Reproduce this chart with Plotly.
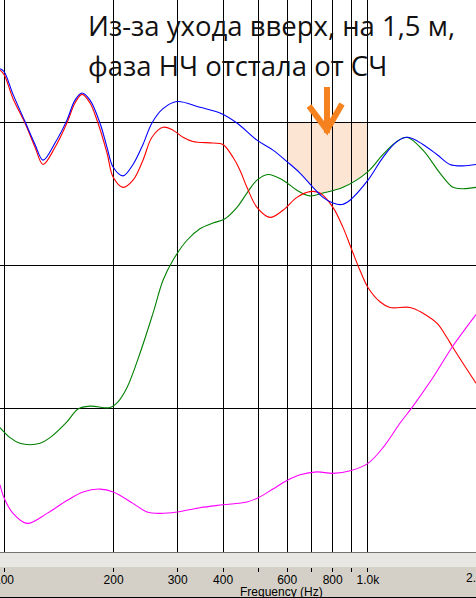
import numpy as np
import plotly.graph_objects as go

# ---- data (frequency in Hz, level in dB) ----
red_f = [97.5, 100, 105.9, 114.2, 121.7, 128.0, 138.1, 148.9, 156.7, 163.8, 172.3, 181.2,
         191.9, 199.6, 212.3, 226.2, 240.9, 255.0, 273.5, 291.2, 310.3, 330.5, 375.2, 399.6,
         425.8, 445.0, 465.1, 495.5, 538.0, 584.1, 638.1, 692.9, 738.2, 801.4, 853.8, 903.8,
         950.5, 1000, 1079, 1149, 1305, 1416, 1547, 1648, 1712, 1824, 1981]
red_db = [93.7, 93.4, 91.7, 90.0, 88.3, 87.1, 88.3, 90.0, 91.4, 92.0, 91.4, 90.0,
          87.9, 86.2, 85.5, 86.0, 87.4, 89.0, 89.7, 89.5, 89.0, 88.7, 88.6, 88.5,
          87.6, 86.7, 85.5, 84.1, 83.4, 83.9, 84.8, 85.2, 85.1, 84.1, 82.7, 81.1,
          79.7, 78.5, 77.5, 77.1, 77.1, 76.7, 76.0, 75.0, 74.3, 73.2, 71.8]

blue_f = [97.5, 100, 105.9, 114.2, 121.7, 128.0, 138.1, 148.9, 156.7, 163.8, 172.3, 183.5,
          191.9, 199.6, 212.3, 226.2, 240.9, 255.0, 273.5, 298.7, 345.5, 392.1, 436.6, 495.5,
          548.3, 599.0, 650.4, 706.2, 752.3, 801.4, 847.7, 892.4, 1000, 1100, 1201, 1288,
          1416, 1547, 1680, 1824, 1981]
blue_db = [93.8, 93.6, 92.0, 90.1, 88.5, 87.4, 88.6, 90.2, 91.6, 92.1, 91.6, 90.0,
           88.3, 86.9, 86.3, 87.1, 88.5, 90.0, 91.0, 91.5, 91.1, 90.7, 90.0, 88.8,
           88.1, 87.3, 86.5, 85.5, 84.8, 84.4, 84.3, 84.6, 86.0, 87.6, 88.7, 89.0,
           88.5, 87.8, 87.1, 87.0, 87.1]

green_f = [97.5, 103.9, 110.6, 117.9, 125.6, 133.8, 148.9, 159.7, 172.3, 195.5, 205.7, 217.8,
           236.4, 256.7, 273.5, 291.2, 318.3, 345.5, 375.2, 404.7, 436.6, 465.1, 495.5, 531.2,
           584.1, 638.1, 692.9, 752.3, 853.8, 1000, 1100, 1201, 1280, 1416, 1577, 1712,
           1824, 1981]
green_db = [68.7, 68.0, 67.6, 67.5, 67.6, 68.0, 69.1, 70.0, 70.2, 70.1, 70.5, 71.5,
            73.9, 76.7, 79.0, 80.4, 81.8, 82.6, 83.0, 83.3, 84.1, 85.1, 86.0, 86.4,
            86.0, 85.3, 84.9, 85.1, 85.5, 86.6, 87.8, 88.7, 89.0, 88.1, 86.5, 85.5,
            85.4, 85.5]

magenta_f = [97.5, 100, 105.9, 115.7, 131.3, 148.9, 164.8, 183.5, 199.6, 226.2, 247.1, 268.3,
             298.7, 345.5, 399.6, 465.1, 500, 548.3, 599, 650.4, 724.3, 801.4, 900, 1000,
             1100, 1224, 1321, 1509, 1701, 1981]
magenta_db = [64.7, 63.8, 62.7, 62.0, 62.7, 63.6, 64.2, 64.4, 64.2, 63.4, 62.8, 62.7,
              62.8, 63.1, 63.3, 63.5, 63.8, 64.4, 65.0, 65.4, 65.6, 65.5, 65.7, 66.2,
              67.3, 69.0, 70.1, 72.2, 74.3, 76.6]

grid_f = [100, 200, 300, 400, 500, 600, 700, 800, 900, 1000]
tick_text = ["100", "200", "300", "400", "", "600", "", "800", "", "1.0k"]
grid_db = [60, 70, 80, 90, 100]

highlight_f = [600, 1000]      # shaded band
highlight_top = 90

title_lines = ["Из-за ухода вверх, на 1,5 м,", "фаза НЧ отстала от СЧ"]
x_title = "Frequency (Hz)"

# ---- geometry ----
W, H = 476, 598
X_RANGE = [np.log10(97.5), np.log10(1981)]
Y_RANGE = [60, 98.6]
PLOT_BOTTOM = 552


def px(x):
    return x / W


def py(y):
    return 1 - y / H


fig = go.Figure()

line_w = 1.1
fig.add_trace(go.Scatter(x=green_f, y=green_db, mode="lines", line=dict(color="#008000", width=line_w, shape="spline"), hoverinfo="skip"))
fig.add_trace(go.Scatter(x=red_f, y=red_db, mode="lines", line=dict(color="#ff0000", width=line_w, shape="spline"), hoverinfo="skip"))
fig.add_trace(go.Scatter(x=blue_f, y=blue_db, mode="lines", line=dict(color="#0000ff", width=line_w, shape="spline"), hoverinfo="skip"))
fig.add_trace(go.Scatter(x=magenta_f, y=magenta_db, mode="lines", xaxis="x2", line=dict(color="#ff00ff", width=line_w, shape="spline"), hoverinfo="skip"))

# shaded band bounded by the upper of blue/green curves
fg = np.geomspace(highlight_f[0], highlight_f[1], 41)
lb = np.interp(np.log10(fg), np.log10(blue_f), blue_db)
lg = np.interp(np.log10(fg), np.log10(green_f), green_db)
bottom = np.maximum(lb, lg)
path = f"M {highlight_f[0]},{highlight_top} " + " ".join(f"L {f:.2f},{v:.3f}" for f, v in zip(fg, bottom)) + f" L {highlight_f[1]},{highlight_top} Z"

shapes = [
    dict(type="path", path=path, xref="x", yref="y", fillcolor="#fde5d3", line=dict(width=0), layer="below"),
    # white areas hiding the grid at the top (pasted caption)
    dict(type="rect", xref="paper", yref="paper", x0=0, x1=1, y0=py(64), y1=1, fillcolor="white", line=dict(width=0), layer="between"),
    dict(type="rect", xref="paper", yref="paper", x0=px(8), x1=1, y0=py(99.5), y1=1, fillcolor="white", line=dict(width=0), layer="between"),
    dict(type="rect", xref="paper", yref="paper", x0=px(240), x1=1, y0=py(122.4), y1=1, fillcolor="white", line=dict(width=0), layer="between"),
    # hatched strip under the plot
    dict(type="rect", xref="paper", yref="paper", x0=0, x1=1, y0=py(567), y1=py(552.6), fillcolor="#e9e7e3", line=dict(width=0), layer="above"),
    # bottom border
    dict(type="line", xref="paper", yref="paper", x0=0, x1=1, y0=py(597.5), y1=py(597.5), line=dict(color="black", width=1), layer="above"),
    # hand-drawn arrow
    dict(type="path", xref="paper", yref="paper",
         path=f"M {px(327)},{py(87)} L {px(327)},{py(133)} M {px(309)},{py(106)} L {px(327)},{py(130)} L {px(342)},{py(104)}",
         line=dict(color="#f5821f", width=6), layer="above"),
]

annotations = [
    dict(text=title_lines[0], xref="paper", yref="paper", x=px(86), y=py(5), xanchor="left", yanchor="top",
         showarrow=False, font=dict(family="Open Sans", size=27.5, color="#111111")),
    dict(text=title_lines[1], xref="paper", yref="paper", x=px(86), y=py(45), xanchor="left", yanchor="top",
         showarrow=False, font=dict(family="Open Sans", size=27.5, color="#111111")),
    dict(text=x_title, xref="paper", yref="paper", x=px(281), y=py(591.5), xanchor="center", yanchor="middle",
         showarrow=False, font=dict(family="Liberation Sans, Arial", size=12, color="black")),
    dict(text="2.0k", xref="paper", yref="paper",
         x=(np.log10(2000) - X_RANGE[0]) / (X_RANGE[1] - X_RANGE[0]), y=py(578),
         xanchor="center", yanchor="middle", showarrow=False,
         font=dict(family="Liberation Sans, Arial", size=12, color="black")),
]

fig.update_layout(
    width=W, height=H,
    margin=dict(l=0, r=0, t=0, b=0, autoexpand=False),
    paper_bgcolor="#d4d0c8",
    plot_bgcolor="white",
    showlegend=False,
    shapes=shapes,
    annotations=annotations,
    xaxis=dict(type="log", range=X_RANGE, domain=[0, 1], tickvals=grid_f, showticklabels=False, ticks="",
               showgrid=True, gridcolor="black", gridwidth=1, showline=True, linecolor="black", linewidth=1,
               zeroline=False, anchor="y", fixedrange=True, automargin=False),
    xaxis2=dict(type="log", range=X_RANGE, overlaying="x", anchor="free", position=py(567), side="bottom",
                tickvals=grid_f, ticktext=tick_text, ticks="outside", ticklen=4, tickcolor="black", tickwidth=1,
                showgrid=False, showline=False, zeroline=False, ticklabeloverflow="allow", automargin=False,
                ticklabelstandoff=-2,
                tickfont=dict(family="Liberation Sans, Arial", size=12, color="black"), fixedrange=True),
    yaxis=dict(range=Y_RANGE, domain=[(H - PLOT_BOTTOM) / H, 1], tickvals=grid_db, showticklabels=False, ticks="",
               showgrid=True, gridcolor="black", gridwidth=1, zeroline=False, showline=False, fixedrange=True,
               automargin=False),
)

fig.write_html("out.html", config={"displayModeBar": False},
               post_script="document.body.style.margin='0';document.body.style.padding='0';")
